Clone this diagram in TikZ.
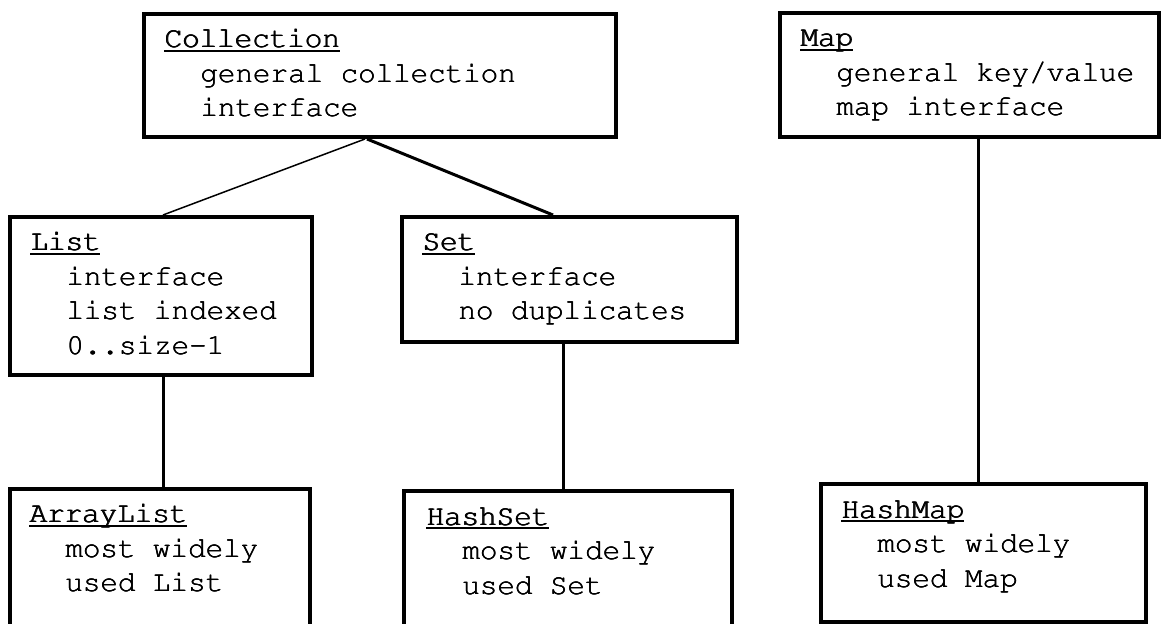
\documentclass[tikz,border=0pt]{standalone}
\usepackage[T1]{fontenc}
\usepackage{courier}
\usetikzlibrary{calc}
\newcommand\thk[2]{\rlap{#2}\hskip#1\relax\rlap{#2}\hskip-#1\relax\hbox{#2}}
\newcommand\ulttl[1]{\setbox0=\hbox{#1}\rlap{\vrule height -1.25pt depth 2.25pt width \wd0}\thk{0.45pt}{#1}}
\newcommand\boxlines[2]{\vtop{\hbox{\ulttl{#1}}#2}}
\newcommand\bline[1]{\hbox{\hskip 18pt \thk{0.25pt}{#1}}}
\tikzset{
  cls/.style={draw, line width=2pt, rectangle, inner sep=0pt},
  lbl/.style={anchor=base west, inner sep=0pt, font=\fontsize{14.6}{17.25}\selectfont\ttfamily},
  link/.style={line width=1.5pt},
  thinlink/.style={line width=0.75pt},
}
\begin{document}
\begin{tikzpicture}[x=0.5pt,y=-0.5pt]
\useasboundingbox (0,0) rectangle (1161,624);
\clip (0,0) rectangle (1161,624);
% boxes
\node[cls, minimum width=236pt, minimum height=61.5pt] (coll) at (380,75.5) {};
\node[cls, minimum width=189.5pt, minimum height=62pt] (map) at (969.5,75) {};
\node[cls, minimum width=151pt, minimum height=79pt] (list) at (161,296) {};
\node[cls, minimum width=167.5pt, minimum height=62.5pt] (set) at (569.5,279.5) {};
\node[cls, minimum width=150pt, minimum height=85.5pt] (alist) at (160,574.5) {};
\node[cls, minimum width=164pt, minimum height=84.5pt] (hset) at (568,575.5) {};
\node[cls, minimum width=162.5pt, minimum height=69pt] (hmap) at (983.5,553) {};
% texts
\node[lbl] (collT) at ([xshift=11pt,yshift=-18pt]coll.north west) {\boxlines{Collection}{\bline{general collection}\bline{interface}}};
\node[lbl] (mapT) at ([xshift=11pt,yshift=-18pt]map.north west) {\boxlines{Map}{\bline{general key/value}\bline{map interface}}};
\node[lbl] (listT) at ([xshift=11pt,yshift=-18pt]list.north west) {\boxlines{List}{\bline{interface}\bline{list indexed}\bline{0..size-1}}};
\node[lbl] (setT) at ([xshift=11pt,yshift=-18pt]set.north west) {\boxlines{Set}{\bline{interface}\bline{no duplicates}}};
\node[lbl] (alistT) at ([xshift=10.5pt,yshift=-17.75pt]alist.north west) {\boxlines{ArrayList}{\bline{most widely}\bline{used List}}};
\node[lbl] (hsetT) at ([xshift=12pt,yshift=-18pt]hset.north west) {\boxlines{HashSet}{\bline{most widely}\bline{used Set}}};
\node[lbl] (hmapT) at ([xshift=11pt,yshift=-18pt]hmap.north west) {\boxlines{HashMap}{\bline{most widely}\bline{used Map}}};
% connector x positions
\coordinate (xa) at (365,0);
\coordinate (xb) at (163,0);
\coordinate (xc) at (367,0);
\coordinate (xd) at (553,0);
\coordinate (xe) at (563,0);
\coordinate (xf) at (978,0);
% connectors
\draw[thinlink] (coll.south -| xa) -- (list.north -| xb);
\draw[link] (coll.south -| xc) -- (set.north -| xd);
\draw[link] (list.south -| xb) -- (alist.north -| xb);
\draw[link] (set.south -| xe) -- (hset.north -| xe);
\draw[link] (map.south -| xf) -- (hmap.north -| xf);
\end{tikzpicture}
\end{document}
